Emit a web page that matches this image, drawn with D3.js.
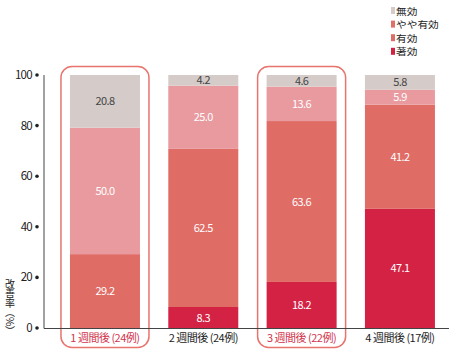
<!DOCTYPE html>
<html><head><meta charset="utf-8">
<script src="https://cdn.jsdelivr.net/npm/d3@7"></script>
<style>
body{margin:0;background:#fff;}
text{font-family:"Noto Sans CJK JP","Noto Sans",sans-serif;}
</style></head>
<body><svg id="c" width="450" height="353"></svg>
<script>
const categories = ["1 週間後 (24例)", "2 週間後 (24例)", "3 週間後 (22例)", "4 週間後 (17例)"];
const highlighted = [true, false, true, false];
const seriesNames = ["著効", "有効", "やや有効", "無効"];
const chokou = [0, 8.3, 18.2, 47.1];
const yuukou = [29.2, 62.5, 63.6, 41.2];
const yayaYuukou = [50.0, 25.0, 13.6, 5.9];
const mukou = [20.8, 4.2, 4.6, 5.8];
const yTicks = [0, 20, 40, 60, 80, 100];
const yTitle = "改善率（%）";
const legendOrder = ["無効", "やや有効", "有効", "著効"];

const colors = {"著効":"#d42245","有効":"#e06c66","やや有効":"#e99a9e","無効":"#d5ccc9"};
const legendColors = {"著効":"#d42245","有効":"#e06c66","やや有効":"#e2706a","無効":"#d5ccc9"};
const labelColors = {"著効":"#fff","有効":"#fff","やや有効":"#fff","無効":"#444"};

const svg = d3.select("#c");
const x = d3.scaleBand().domain(categories).range([55.8, 449.1]).paddingInner(0.288).paddingOuter(0.144);
const y = d3.scaleLinear().domain([0,100]).range([328, 75]);

const rows = categories.map((c,i)=>({cat:c, "著効":chokou[i], "有効":yuukou[i], "やや有効":yayaYuukou[i], "無効":mukou[i]}));
const stack = d3.stack().keys(seriesNames)(rows);

// highlight boxes
svg.selectAll("rect.hl").data(categories.filter((c,i)=>highlighted[i])).join("rect")
  .attr("x", d=>x(d)-9).attr("y", 66.5).attr("width", x.bandwidth()+18).attr("height", 281)
  .attr("rx", 11).attr("fill","none").attr("stroke","#e8746e").attr("stroke-width",1.5);

// bars
const g = svg.append("g");
stack.forEach(layer=>{
  g.selectAll(null).data(layer.filter(d=>d[1]-d[0]>0)).join("rect")
    .attr("x", d=>x(d.data.cat)).attr("width", x.bandwidth())
    .attr("y", d=>y(d[1])).attr("height", d=>y(d[0])-y(d[1]))
    .attr("fill", colors[layer.key]);
  g.selectAll(null).data(layer.filter(d=>d[1]-d[0]>0)).join("text")
    .attr("x", d=>x(d.data.cat)+x.bandwidth()/2)
    .attr("y", d=>(y(d[0])+y(d[1]))/2+4)
    .attr("text-anchor","middle").attr("font-size",11).attr("letter-spacing","-0.6")
    .attr("fill", labelColors[layer.key])
    .text(d=>(d[1]-d[0]).toFixed(1));
});

// axes
svg.append("line").attr("x1",44).attr("x2",44).attr("y1",y(100)).attr("y2",y(0)+0.5).attr("stroke","#444").attr("stroke-width",1);
svg.append("line").attr("x1",44).attr("x2",449).attr("y1",y(0)+0.5).attr("y2",y(0)+0.5).attr("stroke","#444").attr("stroke-width",1);
const yt = svg.append("g").selectAll("g").data(yTicks).join("g").attr("transform", d=>`translate(0,${y(d)})`);
yt.append("circle").attr("cx",37).attr("cy",0).attr("r",1.8).attr("fill","#222");
yt.append("text").attr("x",32).attr("y",4).attr("text-anchor","end").attr("font-size",11.5).attr("letter-spacing","-0.7").attr("fill","#222").text(d=>d);

// category labels
svg.selectAll("text.cat").data(categories).join("text")
  .attr("x", d=>x(d)+x.bandwidth()/2).attr("y", 342)
  .attr("text-anchor","middle").attr("font-size",11).attr("letter-spacing","-0.5")
  .attr("fill",(d,i)=>highlighted[i]?"#d2334c":"#222").text(d=>d);

// y title vertical
svg.append("text").attr("x",10).attr("y",279).attr("font-size",10)
  .style("writing-mode","vertical-rl").style("text-orientation","mixed")
  .attr("letter-spacing","-0.5").attr("fill","#222").text(yTitle);

// legend
const lg = svg.append("g").selectAll("g").data(legendOrder).join("g")
  .attr("transform",(d,i)=>`translate(391,${7+i*13.6})`);
lg.append("rect").attr("width",4).attr("height",7).attr("fill",d=>legendColors[d]);
lg.append("text").attr("transform","translate(5,7.5) scale(1.15,1)").attr("font-size",9.3).attr("fill","#222").text(d=>d);
</script></body></html>
